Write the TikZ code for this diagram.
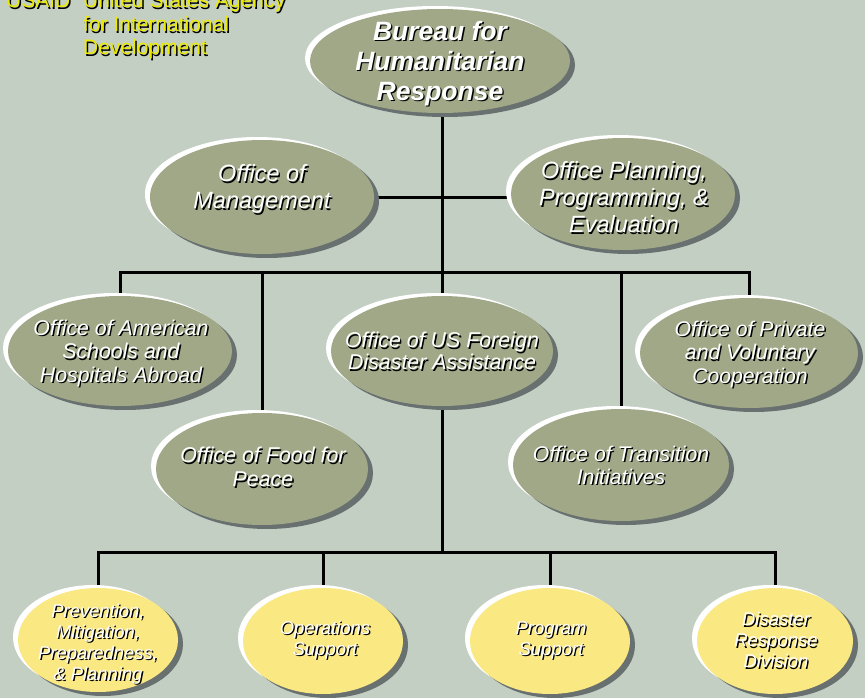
\documentclass[tikz,border=0pt]{standalone}
\usepackage{fontspec}
\setmainfont{Liberation Sans}
\usetikzlibrary{shapes.geometric,shadows,backgrounds}
\definecolor{bgc}{RGB}{196,207,196}
\definecolor{ovg}{RGB}{160,168,136}
\definecolor{ovy}{RGB}{250,232,130}
\definecolor{shd}{RGB}{104,112,112}
\definecolor{usy}{RGB}{235,235,0}
\newcommand\shtxt[2][white]{\makebox[0pt][l]{\kern1.4pt\raisebox{-1.4pt}{\color{black}#2}}{\color{#1}#2}}
\begin{document}
\begin{tikzpicture}[x=1pt,y=-1pt,
  oval/.style={ellipse, inner sep=0pt, draw=none,
    general shadow={fill=white, shadow xshift=-5pt, shadow yshift=3pt},
    general shadow={fill=shd, shadow xshift=5pt, shadow yshift=-4pt}},
  greenoval/.style={oval, fill=ovg},
  yellowoval/.style={oval, fill=ovy},
  lbl/.style={align=center, inner sep=0pt},
  conn/.style={line width=3pt, draw=black},
  hdr/.style={anchor=base west, inner sep=0pt, font=\fontsize{21}{23}\selectfont}]
\path[use as bounding box] (0,0) rectangle (865,698);
\clip (0,0) rectangle (865,698);

% header
\node[hdr] (usaid) at (6,8) {\shtxt[usy]{USAID}};
\node[hdr] (ag1) at (83,8) {\shtxt[usy]{United States Agency}};
\node[hdr] (ag2) at (83,32) {\shtxt[usy]{for International}};
\node[hdr] (ag3) at (83,55) {\shtxt[usy]{Development}};

% ovals
\node[greenoval, minimum width=260, minimum height=104] (bhr) at (440,61) {};
\node[greenoval, minimum width=224, minimum height=114] (om) at (262,197) {};
\node[greenoval, minimum width=224, minimum height=112] (ppe) at (623,194) {};
\node[greenoval, minimum width=224, minimum height=110] (asha) at (120,351) {};
\node[greenoval, minimum width=222, minimum height=110] (ofda) at (442,351) {};
\node[greenoval, minimum width=218, minimum height=110] (pvc) at (749,353) {};
\node[greenoval, minimum width=212, minimum height=112] (ffp) at (262,469) {};
\node[greenoval, minimum width=216, minimum height=112] (oti) at (621,465) {};
\node[yellowoval, minimum width=160, minimum height=104] (pmpp) at (98,640) {};
\node[yellowoval, minimum width=160, minimum height=106] (ops) at (323,641) {};
\node[yellowoval, minimum width=160, minimum height=106] (prog) at (550,641) {};
\node[yellowoval, minimum width=156, minimum height=106] (drd) at (775,641) {};

% labels
\node[lbl, font=\fontsize{26.5}{30}\selectfont\bfseries\itshape] (bhrt) at (440,64)
  {\shtxt{Bureau for}\\\shtxt{Humanitarian}\\\shtxt{Response}};
\node[lbl, font=\fontsize{23.5}{27}\selectfont\itshape] (omt) at (262,190)
  {\shtxt{Office of}\\\shtxt{Management}};
\node[lbl, font=\fontsize{23.5}{27}\selectfont\itshape] (ppet) at (624,198)
  {\shtxt{Office Planning,}\\\shtxt{Programming, \&}\\\shtxt{Evaluation}};
\node[lbl, font=\fontsize{21.3}{23.5}\selectfont\itshape] (ashat) at (121,354)
  {\shtxt{Office of American}\\\shtxt{Schools and}\\\shtxt{Hospitals Abroad}};
\node[lbl, font=\fontsize{21.4}{22}\selectfont\itshape] (ofdat) at (442,352)
  {\shtxt{Office of US Foreign}\\\shtxt{Disaster Assistance}};
\node[lbl, font=\fontsize{21.2}{23.5}\selectfont\itshape] (pvct) at (750,355)
  {\shtxt{Office of Private}\\\shtxt{and Voluntary}\\\shtxt{Cooperation}};
\node[lbl, font=\fontsize{21.4}{24}\selectfont\itshape] (ffpt) at (263,468)
  {\shtxt{Office of Food for}\\\shtxt{Peace}};
\node[lbl, font=\fontsize{21.2}{23}\selectfont\itshape] (otit) at (621,466)
  {\shtxt{Office of Transition}\\\shtxt{Initiatives}};
\node[lbl, font=\fontsize{18.4}{21}\selectfont\itshape] (pmppt) at (98,645)
  {\shtxt{Prevention,}\\\shtxt{Mitigation,}\\\shtxt{Preparedness,}\\\shtxt{\& Planning}};
\node[lbl, font=\fontsize{18.5}{21}\selectfont\itshape] (opst) at (325,641)
  {\shtxt{Operations}\\\shtxt{Support}};
\node[lbl, font=\fontsize{18.5}{21}\selectfont\itshape] (progt) at (551,641)
  {\shtxt{Program}\\\shtxt{Support}};
\node[lbl, font=\fontsize{18.5}{21}\selectfont\itshape] (drdt) at (776,641)
  {\shtxt{Disaster}\\\shtxt{Response}\\\shtxt{Division}};

\coordinate (b1) at (442,272);
\coordinate (b2) at (442,552);

\begin{pgfonlayer}{background}
\fill[bgc] (0,0) rectangle (865,698);
\draw[conn] (bhr.south -| ofda.north) -- (ofda.north);
\draw[conn] (om.east) -- (om.east -| ppe.west);
\draw[conn] (asha.north) |- (b1) -| (pvc.north);
\draw[conn] (ffp.north) -- (ffp.north |- b1);
\draw[conn] (oti.north) -- (oti.north |- b1);
\draw[conn] (ofda.south) -- (b2);
\draw[conn] (pmpp.north) |- (b2) -| (drd.north);
\draw[conn] (ops.north) -- (ops.north |- b2);
\draw[conn] (prog.north) -- (prog.north |- b2);
\end{pgfonlayer}
\end{tikzpicture}
\end{document}
